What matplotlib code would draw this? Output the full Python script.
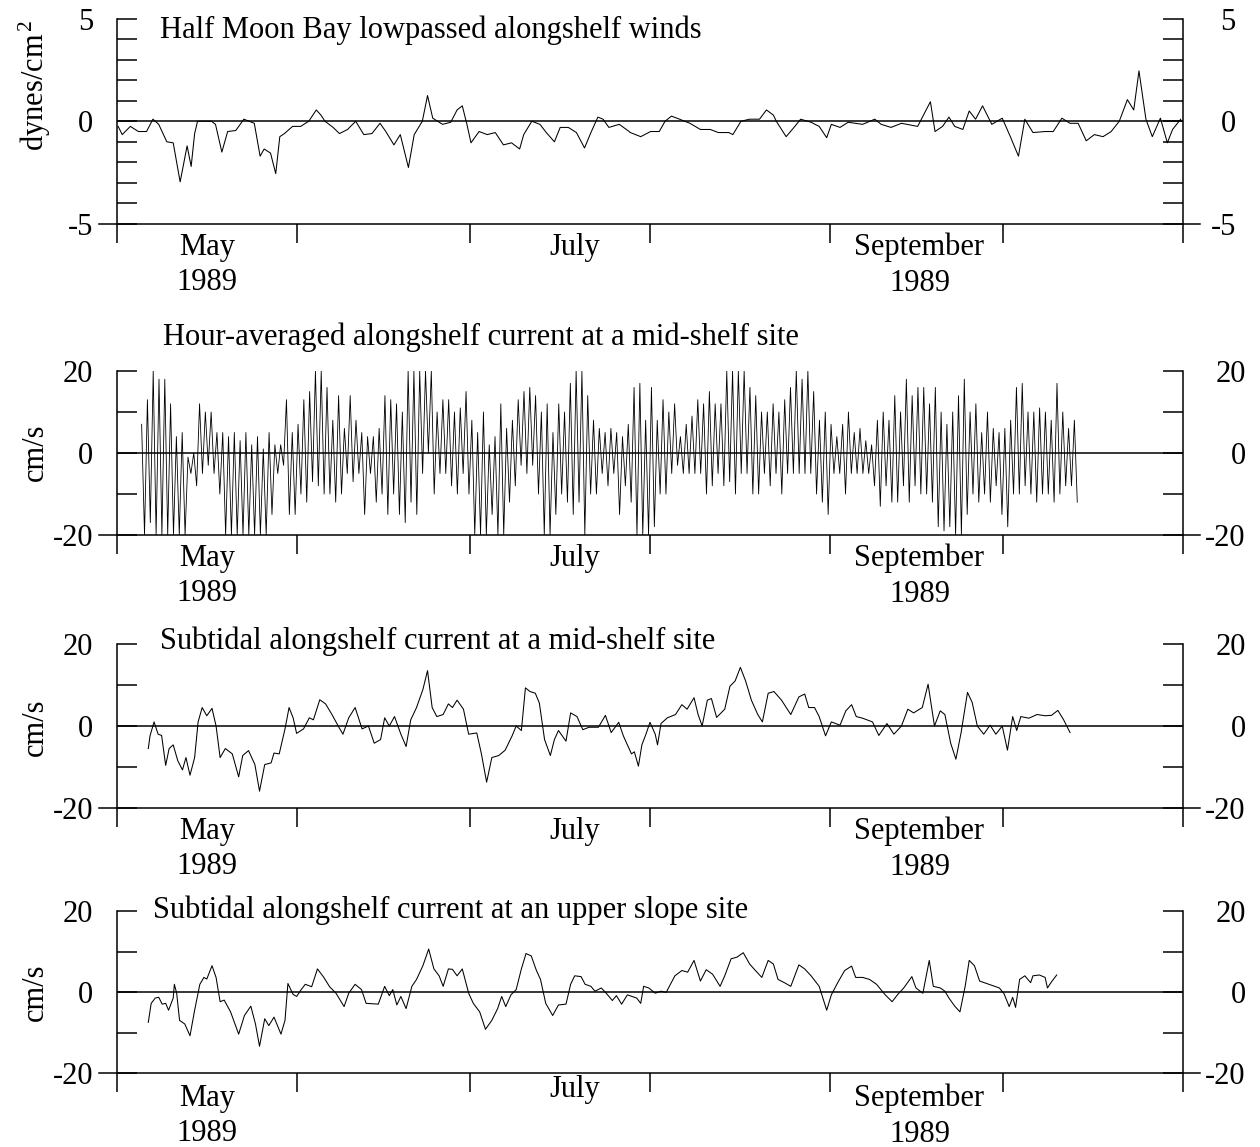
import numpy as np
import matplotlib
matplotlib.use('Agg')
import matplotlib.pyplot as plt
from matplotlib.transforms import blended_transform_factory

plt.rcParams['font.family'] = ['Liberation Serif', 'DejaVu Serif']
plt.rcParams['mathtext.fontset'] = 'custom'
plt.rcParams['mathtext.rm'] = 'Liberation Serif'
plt.rcParams['mathtext.it'] = 'Liberation Serif:italic'

# x axis: days since 1 May 1989
month_starts = [0, 31, 61, 92, 123, 153, 184]

# --- Half Moon Bay lowpassed alongshelf winds (dynes/cm2) ---
wind_day = [0.2, 0.9, 2.3, 3.7, 5.1, 6.2, 7.2, 8.6, 9.7, 10.9, 12.1, 12.8, 13.4, 13.9,
            16.3, 17.0, 18.1, 19.1, 20.5, 21.9, 23.7, 24.7, 25.4, 26.5, 27.4, 28.1,
            28.9, 30.3, 31.7, 33.1, 34.4, 35.2, 35.9, 37.3, 38.4, 39.8, 41.2, 42.6,
            44.0, 45.4, 46.4, 47.8, 48.9, 50.3, 51.3, 52.7, 53.6, 54.5, 56.2, 57.6,
            58.7, 59.6, 60.4, 61.1, 62.5, 63.9, 65.3, 66.7, 68.1, 69.5, 70.2, 71.6,
            73.0, 74.1, 75.5, 76.5, 77.9, 79.3, 80.7, 81.8, 83.0, 83.9, 84.9, 86.7,
            88.4, 88.6, 90.4, 92.1, 93.6, 94.6, 95.7, 97.1, 98.9, 100.7, 102.4, 103.8,
            105.6, 106.3, 107.7, 109.2, 110.9, 112.1, 113.3, 113.8, 115.5, 117.0,
            118.0, 119.8, 121.2, 122.5, 123.3, 124.8, 126.2, 128.7, 130.8, 131.9,
            133.6, 135.4, 138.2, 140.4, 141.2, 142.5, 143.6, 144.6, 146.0, 147.1,
            148.2, 149.4, 151.0, 152.8, 154.2, 155.6, 156.7, 158.1, 160.2, 161.6,
            163.1, 164.5, 165.9, 167.3, 168.7, 170.2, 171.6, 173.0, 174.4, 175.5,
            176.4, 177.6, 178.7, 180.1, 181.3, 182.2, 183.6]
wind_val = [-0.25, -0.65, -0.25, -0.5, -0.5, 0.1, -0.15, -1.0, -1.05, -2.95, -1.2, -2.2,
            -0.6, 0.0, 0.0, -0.15, -1.5, -0.5, -0.45, 0.1, -0.1, -1.7, -1.35, -1.55,
            -2.55, -0.75, -0.6, -0.25, -0.25, 0.0, 0.55, 0.3, 0.0, -0.3, -0.6, -0.4,
            0.0, -0.65, -0.6, -0.1, -0.5, -1.15, -0.65, -2.25, -0.65, 0.0, 1.25, 0.15,
            -0.15, -0.05, 0.55, 0.75, -0.15, -1.05, -0.5, -0.65, -0.55, -1.15, -1.05,
            -1.35, -0.65, 0.0, -0.15, -0.55, -1.0, -0.3, -0.3, -0.55, -1.3, -0.55,
            0.2, 0.1, -0.3, -0.15, -0.5, -0.55, -0.75, -0.5, -0.5, 0.0, 0.25, 0.1,
            -0.1, -0.4, -0.4, -0.55, -0.55, -0.65, 0.0, 0.1, 0.1, 0.55, 0.3, 0.0,
            -0.75, -0.25, 0.1, -0.05, -0.25, -0.8, -0.15, -0.3, -0.05, -0.15, 0.1,
            -0.15, -0.3, -0.1, -0.25, 0.95, -0.5, -0.25, 0.2, -0.25, -0.4, 0.5, 0.1,
            0.75, -0.15, 0.15, -0.75, -1.7, 0.1, -0.55, -0.5, -0.5, 0.15, -0.1, -0.1,
            -0.95, -0.65, -0.75, -0.5, 0.0, 1.05, 0.55, 2.45, 0.1, -0.75, 0.15, -1.05,
            -0.4, 0.1]

# --- Hour-averaged alongshelf current, mid-shelf (cm/s): daily highs and lows ---
hourly_first_day = 4
hourly_hi = [7, 13, 20, 18, 18, 12, 4, 5, -1, 0, 12, 10, 10, 5, 5, 4, 5, 3, 5, 2,
             4, 1, 5, 2, 2, 13, 5, 7, 13, 15, 20, 20, 16, 8, 14, 6, 14, 8, 5, 4,
             4, 6, 14, 13, 12, 10, 20, 20, 20, 20, 20, 10, 13, 13, 10, 11, 15, 8, 5, 10,
             2, 4, 12, 6, 8, 13, 15, 16, 14, 10, 12, 5, 12, 10, 17, 20, 20, 14, 8, 6,
             5, 6, 5, 4, 7, 16, 17, 8, 16, 8, 13, 10, 12, 4, 7, 9, 13, 12, 15, 12,
             12, 20, 20, 20, 20, 16, 14, 10, 10, 12, 10, 13, 16, 20, 18, 20, 15, 8, 10, 7,
             4, 7, 10, 5, 6, 3, 2, 8, 10, 8, 14, 10, 18, 14, 16, 16, 12, 16, 10, 7,
             10, 14, 18, 10, 12, 5, 10, 6, 5, 6, 8, 16, 17, 10, 10, 11, 10, 8, 17, 10,
             6, 8]
hourly_lo = [-20, -17, -20, -20, -20, -20, -20, -20, -5, -8, -5, -3, -5, -10, -20, -20,
             -20, -20, -20, -20, -20, -20, -15, -5, -3, -15, -15, -10, -12, -7,
             -8, -10, -10, -12, -10, -5, -7, -5, -15, -5, -12, -10, -15, -10, -15, -17,
             -12, -15, -5, 0, -10, -5, -5, -8, -10, -5, -10, -20, -20, -20,
             -15, -20, -20, -12, -8, -3, -5, -3, -10, -20, -20, -15, -10, -12, -15, -12,
             -20, -10, -10, -5, -8, -5, -15, -8, -12, -20, -20, -20, -18, -10,
             -10, -5, -3, -5, -5, -5, -5, -10, -8, -5, -8, -7, -10, -5, -5, -10,
             -10, -5, -8, -5, -10, -5, -5, -5, -5, -5, -10, -12, -15, -5, -5, -10,
             -5, -5, -5, -5, -8, -13, -8, -12, -12, -8, -12, -8, -10, -10, -12, -18,
             -19, -18, -20, -20, -15, -10, -12, -10, -12, -8, -15, -18, -10, -10, -8, -10,
             -12, -10, -10, -12, -10, -8, -8, -12]

# --- Subtidal alongshelf current, mid-shelf (cm/s) ---
mid_day = [5.4, 5.7, 6.4, 7.1, 7.7, 8.4, 9.0, 9.7, 10.5, 11.3, 11.9, 12.6, 13.4, 14.0,
           14.7, 15.5, 16.4, 17.1, 17.8, 18.7, 19.9, 21.0, 21.7, 22.7, 23.8, 24.6,
           25.5, 26.6, 27.1, 28.0, 29.0, 29.7, 30.4, 31.0, 32.2, 33.2, 33.9, 35.0,
           36.0, 37.1, 38.3, 39.0, 40.0, 41.1, 42.3, 43.4, 44.4, 45.5, 46.2, 47.0,
           47.9, 49.0, 49.9, 50.7, 51.7, 52.8, 53.6, 54.4, 55.2, 56.3, 57.2, 57.9,
           58.7, 59.8, 60.7, 62.1, 62.9, 63.8, 64.7, 65.9, 67.0, 68.2, 68.9, 69.8,
           70.5, 71.3, 72.2, 72.9, 73.8, 74.8, 75.5, 76.2, 77.5, 78.3, 79.4, 80.4,
           81.5, 83.1, 84.3, 85.3, 86.6, 87.4, 88.8, 89.3, 90.0, 90.6, 91.3, 92.0,
           92.9, 93.3, 93.9, 95.0, 96.4, 97.5, 98.4, 99.6, 100.3, 101.0, 101.9, 102.6,
           103.5, 104.9, 105.8, 106.7, 107.6, 108.5, 109.5, 110.6, 111.4, 112.4,
           113.4, 114.7, 116.3, 117.7, 118.7, 119.4, 120.4, 121.2, 122.3, 123.3,
           124.8, 125.8, 126.8, 127.6, 128.7, 130.4, 131.5, 132.9, 134.1, 135.4,
           136.5, 137.5, 139.0, 140.0, 141.1, 142.1, 142.9, 143.9, 144.8, 145.7,
           146.8, 147.6, 148.5, 149.6, 150.7, 151.7, 152.8, 153.7, 154.6, 155.3,
           156.0, 157.4, 158.8, 160.2, 161.3, 162.4, 163.4, 164.5]
mid_val = [-5.5, -2.4, 1.0, -2.0, -2.3, -9.6, -5.5, -4.6, -8.5, -10.7, -7.7, -12.0,
           -7.7, 1.0, 4.5, 2.5, 4.3, 0.0, -7.7, -5.5, -6.8, -12.4, -7.2, -6.0, -9.4,
           -15.9, -9.4, -9.0, -6.6, -6.8, -0.7, 4.5, 2.0, -1.8, -0.7, 2.0, 1.5, 6.4,
           5.4, 2.8, -0.3, -2.0, 2.0, 4.5, -0.7, 0.0, -4.2, -3.3, 2.0, 0.0, 2.3, -2.0,
           -5.0, 1.5, 4.5, 8.9, 13.5, 4.5, 2.3, 2.8, 5.4, 4.5, 6.3, 4.1, -2.0, -1.7,
           -6.8, -13.7, -7.7, -7.2, -5.9, -2.4, 0.0, -1.1, 9.3, 8.4, 8.0, 5.6, -3.3,
           -7.2, -3.3, -1.1, -3.7, 3.2, 2.3, -0.9, -0.3, -0.3, 2.6, -1.6, 0.9, -2.4,
           -6.8, -6.3, -9.8, -4.6, -2.0, 0.9, -2.0, -4.6, 0.6, 2.0, 2.8, 5.2, 4.1,
           6.9, 2.8, 0.0, 6.3, 6.7, 2.1, 4.1, 9.7, 11.0, 14.3, 11.0, 6.3, 2.8, 1.0,
           8.0, 8.4, 6.3, 2.8, 7.1, 7.8, 4.5, 4.5, 2.3, -2.4, 1.0, 0.2, 3.7, 5.2,
           2.3, 1.9, 1.0, -2.3, 0.6, -2.0, 0.0, 4.1, 3.2, 4.5, 10.2, 0.0, 3.7, 2.8,
           -4.2, -8.1, -1.6, 8.2, 5.8, 0.0, -2.0, 0.2, -2.0, 0.0, -5.9, 2.3, -1.1,
           2.3, 1.9, 2.8, 2.5, 2.6, 3.8, 1.5, -1.6]

# --- Subtidal alongshelf current, upper slope (cm/s) ---
slope_day = [5.4, 5.9, 6.6, 7.2, 7.8, 8.4, 8.9, 9.7, 9.9, 10.3, 10.8, 11.7, 12.6, 13.4,
             14.3, 15.0, 15.5, 16.4, 17.1, 17.8, 18.5, 19.6, 21.0, 22.0, 23.1, 23.9,
             24.6, 25.5, 26.2, 27.1, 28.3, 29.0, 29.5, 30.4, 31.0, 31.8, 32.5, 33.6,
             34.6, 35.7, 36.7, 37.8, 39.2, 40.0, 41.1, 42.2, 43.0, 44.1, 45.1, 46.2,
             47.0, 47.6, 48.3, 49.0, 49.9, 50.9, 51.7, 52.8, 53.8, 54.7, 55.6, 56.3,
             57.2, 57.9, 58.7, 59.6, 60.7, 61.5, 62.6, 63.6, 64.7, 65.7, 66.4, 67.1,
             68.0, 68.9, 69.8, 70.6, 71.5, 72.4, 73.1, 74.0, 75.2, 76.2, 77.5, 78.3,
             79.0, 80.1, 80.8, 81.8, 82.5, 83.6, 84.5, 85.5, 86.2, 87.1, 88.1, 89.7,
             90.4, 90.9, 91.8, 92.9, 93.9, 94.8, 95.3, 96.3, 97.5, 98.5, 99.6, 100.7,
             101.7, 102.8, 104.1, 104.9, 106.0, 107.0, 108.1, 109.2, 110.2, 111.3,
             112.4, 113.3, 114.1, 115.2, 116.3, 117.7, 118.7, 119.8, 121.2, 122.5,
             123.3, 124.4, 125.6, 126.8, 127.5, 128.7, 129.9, 131.1, 132.6, 133.8,
             134.7, 135.8, 137.2, 137.9, 139.1, 140.2, 140.9, 142.1, 142.9, 143.6,
             144.6, 145.5, 146.4, 147.1, 148.0, 148.9, 149.9, 151.1, 152.3, 153.1,
             154.0, 154.6, 155.1, 155.8, 156.7, 157.7, 158.1, 159.2, 160.2, 160.6,
             161.3, 162.2]
slope_val = [-7.5, -2.8, -1.5, -1.3, -3.0, -2.8, -4.5, -1.5, 1.9, -0.3, -7.0, -7.9,
             -10.8, -4.5, 1.9, 3.6, 3.2, 6.5, 3.6, -2.4, -2.0, -4.9, -10.4, -5.8, -3.5,
             -7.9, -13.4, -6.6, -8.3, -6.2, -10.4, -7.0, 2.1, -0.6, -1.1, 0.6, 1.9, 1.3,
             5.7, 3.6, 1.3, -0.3, -3.6, -0.3, 1.9, 0.6, -2.8, -2.9, -3.0, 1.4, -0.9, 0.6,
             -3.2, -1.1, -4.1, 1.4, 3.1, 6.5, 10.6, 5.7, 4.0, 1.4, 5.7, 5.6, 4.0, 5.7,
             -0.3, -2.8, -4.9, -9.2, -7.0, -4.1, -1.1, -3.6, -0.7, 0.6, 5.7, 9.5, 8.9,
             5.3, 3.1, -2.8, -5.8, -3.2, -3.0, 1.9, 4.0, 3.8, 1.9, 1.4, 0.2, 1.0, -0.4,
             -2.1, -0.9, -3.0, -0.7, -1.5, -2.8, 1.4, 1.0, -0.3, 0.2, -0.1, 1.3, 4.0,
             5.3, 4.9, 7.8, 2.7, 5.5, 4.4, 1.4, 4.0, 8.2, 8.6, 9.7, 6.9, 5.3, 3.6, 7.8,
             6.9, 3.1, 2.3, 1.4, 6.7, 5.7, 4.0, 1.4, -4.5, -0.7, 2.3, 5.3, 6.4, 3.6,
             3.6, 3.1, 1.9, -0.7, -2.4, -0.7, 1.0, 3.8, 1.0, -0.3, 7.8, 1.4, 1.0, 0.2,
             -1.5, -3.5, -4.9, 1.4, 7.8, 6.5, 2.7, 2.2, 1.6, 1.0, -0.4, -3.6, -1.3,
             -3.8, 3.1, 4.0, 2.3, 4.0, 4.2, 3.6, 1.0, 2.5, 4.2]

# interleave the daily highs and lows of the hourly record into one trace
hourly_day = []
hourly_val = []
for i in range(len(hourly_hi)):
    d = hourly_first_day + i
    hourly_day += [d + 0.25, d + 0.75]
    hourly_val += [hourly_hi[i], hourly_lo[i]]

W, H = 1260, 1147
fig = plt.figure(figsize=(W / 100, H / 100), dpi=100)

x0 = 117 / W
aw = (1183 - 117) / W
# (top px, bottom px) of each panel
boxes = [(18.5, 224), (371, 535), (644, 808), (911, 1073)]
axes = [fig.add_axes([x0, 1 - b / H, aw, (b - t) / H]) for t, b in boxes]

FS = 22
LW = 1.1


def style(ax, lim, step, rpad):
    ax.set_xlim(0, 184)
    ax.set_ylim(-lim, lim)
    for s in ['top', 'bottom']:
        ax.spines[s].set_visible(False)
    for s in ['left', 'right']:
        ax.spines[s].set_linewidth(LW)
    ax.set_xticks(month_starts)
    ax.set_xticklabels([])
    ax.tick_params(axis='x', direction='out', length=14, width=LW)
    ax.set_yticks([-lim, 0, lim])
    ax.set_yticks(np.arange(-lim, lim + step / 2, step), minor=True)
    ax.set_yticklabels(['%d' % -lim, '0', '%d' % lim])
    ax.tick_params(axis='y', which='both', direction='in', length=14.5, width=LW,
                   left=True, right=True, labelleft=True, labelright=False,
                   labelsize=FS, pad=17)
    ax.axhline(0, color='k', lw=LW)
    ax.plot([-0.017, 1.016], [0, 0], transform=ax.transAxes, color='k', lw=LW,
            clip_on=False)
    sec = ax.secondary_yaxis('right')
    sec.set_yticks([-lim, 0, lim])
    sec.set_yticklabels(['%d' % -lim, '0', '%d' % lim], ha='right')
    sec.tick_params(length=0, labelsize=FS, pad=rpad)
    sec.spines['right'].set_visible(False)


def months(ax, names, offs):
    tr = blended_transform_factory(ax.transData, ax.transAxes)
    for (d, txt), dy in zip(names, offs):
        ax.annotate(txt, xy=(d, 0), xycoords=tr, xytext=(0, -dy),
                    textcoords='offset points', ha='center', va='center',
                    fontsize=FS, linespacing=1.3)


lims = [(5, 1, 38), (20, 10, 45), (20, 10, 45), (20, 10, 45)]
for ax, (lim, step, rpad) in zip(axes, lims):
    style(ax, lim, step, rpad)

axes[0].plot(wind_day, wind_val, color='k', lw=0.75)
axes[1].plot(hourly_day, hourly_val, color='k', lw=0.6)
axes[2].plot(mid_day, mid_val, color='k', lw=0.75)
axes[3].plot(slope_day, slope_val, color='k', lw=0.75)

for i, ax in enumerate(axes):
    if i < 3:
        months(ax, [(15.5, 'May\n1989'), (79, 'July'), (138.5, 'September\n1989')],
               [29.5, 17, 29.5])
    else:
        months(ax, [(15.5, 'May\n1989'), (79, 'July'), (138.5, 'September\n1989')],
               [31, 12, 31])

titles = [(160, 30, 'Half Moon Bay lowpassed alongshelf winds'),
          (163, 337, 'Hour-averaged alongshelf current at a mid-shelf site'),
          (160, 641, 'Subtidal alongshelf current at a mid-shelf site'),
          (153, 910, 'Subtidal alongshelf current at an upper slope site')]
for x, y, t in titles:
    fig.text(x / W, 1 - y / H, t, fontsize=FS, ha='left', va='center')

ylabels = [(85, 'dynes/cm$^{\\,2}$'), (452, 'cm/s'), (727, 'cm/s'), (992, 'cm/s')]
for y, t in ylabels:
    fig.text(35 / W, 1 - y / H, t, fontsize=FS, rotation=90, ha='center', va='center')

fig.savefig('out.png', dpi=100)
